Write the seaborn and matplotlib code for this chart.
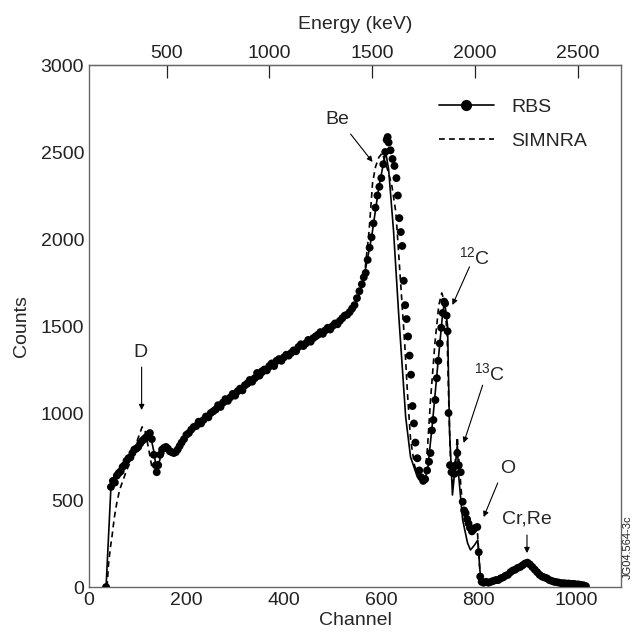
import matplotlib
matplotlib.use("Agg")
import matplotlib.pyplot as plt
from matplotlib.lines import Line2D
import seaborn as sns
import pandas as pd

# RBS measured points (channel, counts)
rbs_ch = [35, 45, 49, 53, 57, 61, 65, 69, 73, 77, 81, 85, 89, 93, 97, 101, 105, 109, 113, 117,
          121, 125, 129, 133, 137, 139, 142, 146, 150, 154, 158, 162, 166, 170, 174, 178, 182, 186, 190, 195,
          200, 205, 210, 215, 220, 225, 230, 235, 240, 245, 250, 255, 260, 265, 270, 275, 280, 285, 290, 295,
          300, 305, 310, 315, 320, 325, 330, 335, 340, 345, 350, 355, 360, 365, 370, 375, 380, 385, 390, 395,
          400, 405, 410, 415, 420, 425, 430, 435, 440, 445, 450, 455, 460, 465, 470, 475, 480, 485, 490, 495,
          500, 505, 510, 515, 520, 525, 530, 535, 540, 545, 550, 555, 560, 564, 568, 572, 576, 580, 584, 588,
          592, 596, 600, 604, 608, 611, 613, 615, 619, 623, 627, 631, 634, 637, 640, 643, 646, 649, 652, 655,
          658, 661, 664, 667, 670, 674, 678, 682, 686, 690, 694, 698, 701, 704, 707, 711, 714, 717, 720, 723,
          726, 729, 731, 734, 736, 738, 741, 744, 747, 750, 753, 756, 759, 763, 767, 770, 773, 776, 779, 782,
          786, 789, 793, 797, 800, 803, 806, 810, 815, 820, 825, 830, 835, 840, 845, 850, 855, 860, 865, 870,
          875, 880, 885, 890, 895, 900, 905, 910, 915, 920, 925, 930, 935, 940, 945, 950, 955, 960, 965, 970,
          975, 980, 985, 990, 995, 1000, 1005, 1010, 1015, 1020]
rbs_counts = [0, 575, 610, 600, 640, 655, 665, 690, 700, 725, 740, 745, 770, 790, 795, 805, 825, 840, 850, 860,
              875, 885, 850, 760, 700, 660, 700, 760, 790, 800, 805, 795, 780, 775, 770, 775, 790, 810, 830, 850,
              875, 885, 905, 920, 925, 950, 940, 960, 980, 975, 1000, 1010, 1020, 1045, 1035, 1060, 1080, 1070, 1090, 1110,
              1100, 1125, 1140, 1130, 1160, 1170, 1190, 1180, 1200, 1230, 1215, 1240, 1250, 1245, 1270, 1285, 1270, 1300, 1310, 1300,
              1320, 1335, 1330, 1345, 1360, 1355, 1380, 1395, 1385, 1400, 1420, 1410, 1430, 1440, 1450, 1465, 1455, 1475, 1490, 1480,
              1500, 1515, 1510, 1530, 1545, 1560, 1565, 1580, 1600, 1620, 1660, 1700, 1740, 1780, 1805, 1880, 1950, 2010, 2090, 2180,
              2250, 2300, 2350, 2430, 2500, 2570, 2586, 2555, 2510, 2460, 2420, 2350, 2250, 2120, 2040, 1960, 1760, 1620, 1540, 1440,
              1330, 1220, 1040, 940, 830, 740, 670, 630, 610, 620, 670, 720, 770, 900, 960, 1075, 1200, 1300, 1400, 1490,
              1575, 1640, 1630, 1560, 1470, 1000, 700, 660, 680, 650, 700, 770, 700, 660, 490, 440, 425, 390, 365, 340,
              320, 330, 340, 345, 200, 60, 30, 25, 30, 25, 30, 35, 40, 40, 50, 55, 65, 70, 85, 95,
              100, 110, 115, 125, 135, 140, 130, 115, 100, 85, 70, 60, 55, 50, 40, 35, 30, 28, 25, 22,
              22, 20, 20, 18, 18, 15, 15, 12, 10, 5]

# RBS solid curve
line_ch = [35, 45, 60, 80, 100, 115, 125, 133, 139, 150, 160, 175, 200, 300, 400, 500, 540, 555, 565, 580,
           595, 609, 615, 625, 636, 650, 660, 674, 687, 695, 705, 716, 726, 730, 736, 740, 746, 752, 756, 759,
           767, 777, 783, 791, 798, 801, 804, 815, 850, 900, 940, 980, 1020]
line_counts = [0, 575, 640, 730, 800, 855, 885, 780, 665, 780, 800, 770, 870, 1095, 1310, 1490, 1585, 1680, 1790, 2010,
               2300, 2500, 2400, 2050, 1552, 977, 747, 632, 600, 672, 943, 1280, 1575, 1640, 1500, 900, 529, 700, 816, 632,
               385, 253, 213, 240, 270, 150, 40, 25, 55, 138, 50, 20, 5]

# SIMNRA simulation
sim_ch = [37, 40, 44, 47, 52, 57, 63, 70, 77, 84, 92, 100, 109, 115, 122, 129, 137, 146, 160, 175,
          200, 250, 300, 350, 400, 450, 500, 530, 550, 565, 575, 582, 588, 595, 602, 608, 615, 622, 630, 636,
          642, 648, 654, 660, 668, 676, 683, 690, 695, 701, 710, 718, 724, 730, 735, 739, 743, 747, 751, 756,
          760, 765, 772, 780, 787, 792, 797, 800, 803, 806, 850, 900, 940, 980, 1020]
sim_counts = [0, 130, 230, 287, 400, 483, 560, 615, 670, 713, 780, 850, 920, 900, 800, 690, 700, 740, 790, 785,
              880, 1000, 1100, 1225, 1320, 1415, 1500, 1570, 1640, 1780, 2050, 2322, 2414, 2470, 2494, 2440, 2380, 2300, 2150, 1900,
              1650, 1400, 1100, 850, 700, 640, 600, 640, 810, 1075, 1400, 1620, 1690, 1640, 1450, 1000, 650, 600, 700, 862,
              700, 520, 430, 380, 340, 340, 330, 200, 60, 30, 55, 140, 50, 20, 5]

energy_ticks = [500, 1000, 1500, 2000, 2500]

rbs = pd.DataFrame({"ch": rbs_ch, "counts": rbs_counts})
fit = pd.DataFrame({"ch": line_ch, "counts": line_counts})
sim = pd.DataFrame({"ch": sim_ch, "counts": sim_counts})

sns.set_style("white")
plt.rcParams["font.family"] = ["Liberation Sans", "DejaVu Sans"]
plt.rcParams["mathtext.fontset"] = "custom"
plt.rcParams["mathtext.rm"] = "Liberation Sans"

fs = 14
fig = plt.figure(figsize=(6.34, 6.38), dpi=100)
ax = fig.add_axes([0.1404, 0.0799, 0.8391, 0.8182])

sns.lineplot(data=sim, x="ch", y="counts", ax=ax, sort=False, color="black",
             lw=1.2, linestyle=(0, (3.5, 2.5)))
sns.lineplot(data=fit, x="ch", y="counts", ax=ax, sort=False, color="black", lw=1.2)
sns.scatterplot(data=rbs, x="ch", y="counts", ax=ax, color="black", s=32,
                edgecolor="none", zorder=3)

ax.set_xlim(0, 1092)
ax.set_ylim(0, 3000)
ax.set_xticks(range(0, 1001, 200))
ax.set_xticks(range(100, 1001, 200), minor=True)
ax.set_yticks(range(0, 3001, 500))
ax.tick_params(axis="both", which="major", direction="in", length=9, width=0.9,
               labelsize=fs, colors="#222222")
ax.tick_params(axis="x", which="minor", direction="in", length=4.5, width=0.9, colors="#222222")
ax.set_xlabel("Channel", fontsize=fs, labelpad=2)
ax.set_ylabel("Counts", fontsize=fs, labelpad=8)
for s in ax.spines.values():
    s.set_color("#666666")
    s.set_linewidth(1.0)

top = ax.secondary_xaxis("top", functions=(lambda c: 2.37 * c + 123, lambda e: (e - 123) / 2.37))
top.set_xticks(energy_ticks)
top.tick_params(direction="in", length=9, width=0.9, labelsize=fs, colors="#222222", pad=2)
top.set_xlabel("Energy (keV)", fontsize=fs, labelpad=12)

arrow = dict(arrowstyle="-|>", color="black", lw=0.8, mutation_scale=8, shrinkA=0, shrinkB=0)
ax.text(105, 1350, "D", fontsize=fs, ha="center", va="center")
ax.annotate("", xy=(108, 1017), xytext=(108, 1264), arrowprops=arrow)
ax.text(510, 2684, "Be", fontsize=fs, ha="center", va="center")
ax.annotate("", xy=(582, 2443), xytext=(537, 2603), arrowprops=arrow)
ax.text(792, 1890, r"$^{12}$C", fontsize=fs, ha="center", va="center")
ax.annotate("", xy=(746, 1621), xytext=(781, 1840), arrowprops=arrow)
ax.text(822, 1225, r"$^{13}$C", fontsize=fs, ha="center", va="center")
ax.annotate("", xy=(769, 828), xytext=(808, 1160), arrowprops=arrow)
ax.text(859, 684, "O", fontsize=fs, ha="center", va="center")
ax.annotate("", xy=(810, 402), xytext=(839, 598), arrowprops=arrow)
ax.text(899, 390, "Cr,Re", fontsize=fs, ha="center", va="center")
ax.annotate("", xy=(899, 195), xytext=(899, 299), arrowprops=arrow)

handles = [Line2D([], [], color="black", lw=1.2, marker="o", markersize=7),
           Line2D([], [], color="black", lw=1.2, linestyle=(0, (3.5, 2.5)))]
ax.legend(handles, ["RBS", "SIMNRA"], loc="upper left", bbox_to_anchor=(0.64, 0.955),
          frameon=False, fontsize=fs, handlelength=2.8, handletextpad=0.9,
          labelspacing=0.85, borderpad=0)

fig.text(628 / 634, 1 - 547 / 638, "JG04.564-3c", rotation=90, fontsize=8,
         ha="center", va="center", color="#222222")

fig.savefig("out.png", dpi=100)
